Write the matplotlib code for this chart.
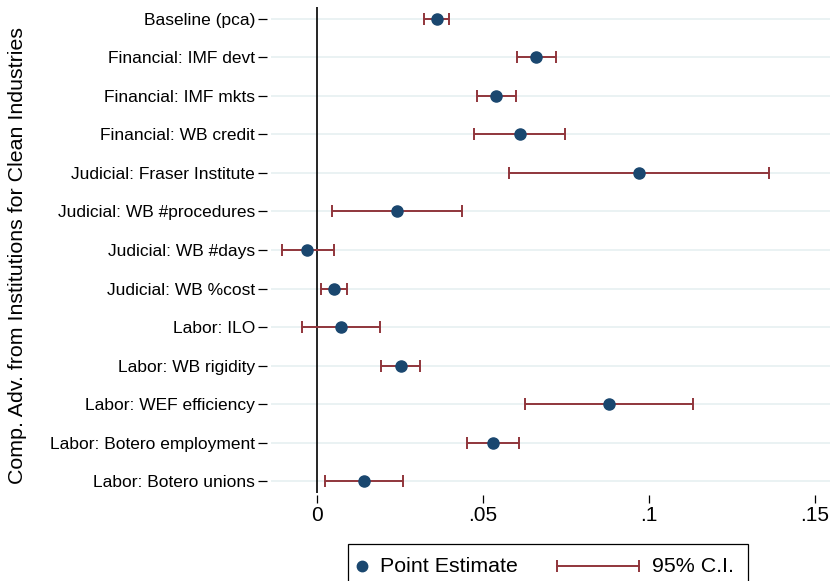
import numpy as np
import matplotlib.pyplot as plt
from matplotlib.lines import Line2D
from matplotlib.patches import Rectangle

plt.rcParams['font.family'] = ['Liberation Sans', 'DejaVu Sans']

# coefficient estimates and 95% confidence bounds, top row first
labels = [
    'Baseline (pca)',
    'Financial: IMF devt',
    'Financial: IMF mkts',
    'Financial: WB credit',
    'Judicial: Fraser Institute',
    'Judicial: WB #procedures',
    'Judicial: WB #days',
    'Judicial: WB %cost',
    'Labor: ILO',
    'Labor: WB rigidity',
    'Labor: WEF efficiency',
    'Labor: Botero employment',
    'Labor: Botero unions',
]
estimate = [0.0360, 0.0660, 0.0539, 0.0610, 0.0970, 0.0241, -0.0029,
            0.0051, 0.0073, 0.0252, 0.0879, 0.0530, 0.0141]
ci_low = [0.0322, 0.0602, 0.0481, 0.0473, 0.0578, 0.0046, -0.0105,
          0.0013, -0.0045, 0.0192, 0.0626, 0.0452, 0.0024]
ci_high = [0.0399, 0.0720, 0.0600, 0.0746, 0.1360, 0.0436, 0.0051,
           0.0090, 0.0189, 0.0310, 0.1134, 0.0608, 0.0259]

xticks = [0, 0.05, 0.10, 0.15]
xticklabels = ['0', '.05', '.1', '.15']

navy = '#1a476f'
maroon = '#90353b'
grid_col = '#eaf2f3'

W, H = 830, 581
fig = plt.figure(figsize=(W / 100, H / 100), dpi=100)
ax = fig.add_axes([271 / W, 1 - 493 / H, 559 / W, 486 / H])

est = np.array(estimate)
lo = np.array(ci_low)
hi = np.array(ci_high)
ypos = np.arange(len(labels))

for y in ypos:
    ax.axhline(y, color=grid_col, lw=1.4, zorder=0)
ax.axvline(0, color='black', lw=1.2, zorder=1)

ax.errorbar(est, ypos, xerr=[est - lo, hi - est], fmt='none',
            ecolor=maroon, elinewidth=1.4, capsize=4.3, capthick=1.4, zorder=2)
ax.plot(est, ypos, 'o', color=navy, ms=8, zorder=3)

ax.set_xlim(-46 / 3320, 513 / 3320)
ax.set_ylim(len(labels) - 1 + 0.31, -0.31)

for side in ['top', 'right', 'left', 'bottom']:
    ax.spines[side].set_visible(False)
ax.spines['bottom'].set_position(('outward', 1.5))
ax.spines['left'].set_position(('outward', 3))

ax.set_xticks(xticks)
ax.set_xticklabels(xticklabels, fontsize=15)
ax.set_yticks(ypos)
ax.set_yticklabels(labels, fontsize=12.5)
ax.tick_params(axis='x', length=5.8, width=0.9, pad=2)
ax.tick_params(axis='y', length=6.5, width=0.9, pad=2)

fig.text(18 / W, 1 - 255 / H, 'Comp. Adv. from Institutions for Clean Industries',
         rotation=90, ha='center', va='center', fontsize=15.4)

# legend box along the bottom edge
ly = 1 - 566 / H
fig.add_artist(Rectangle((348 / W, 1 - 600 / H), 400 / W, 56 / H,
                         transform=fig.transFigure, fill=False,
                         edgecolor='black', lw=0.9))
fig.add_artist(Line2D([362 / W], [ly], marker='o', ms=7.5, color=navy,
                      linestyle='none', transform=fig.transFigure))
fig.text(380 / W, ly, 'Point Estimate', ha='left', va='center', fontsize=15.4)
fig.add_artist(Line2D([557 / W, 639 / W], [ly, ly], color=maroon, lw=1.4,
                      transform=fig.transFigure))
fig.add_artist(Line2D([557 / W, 639 / W], [ly, ly], marker='|', ms=8.6,
                      mew=1.4, color=maroon, linestyle='none',
                      transform=fig.transFigure))
fig.text(652 / W, ly, '95% C.I.', ha='left', va='center', fontsize=15.4)

fig.savefig('out.png', dpi=100)
